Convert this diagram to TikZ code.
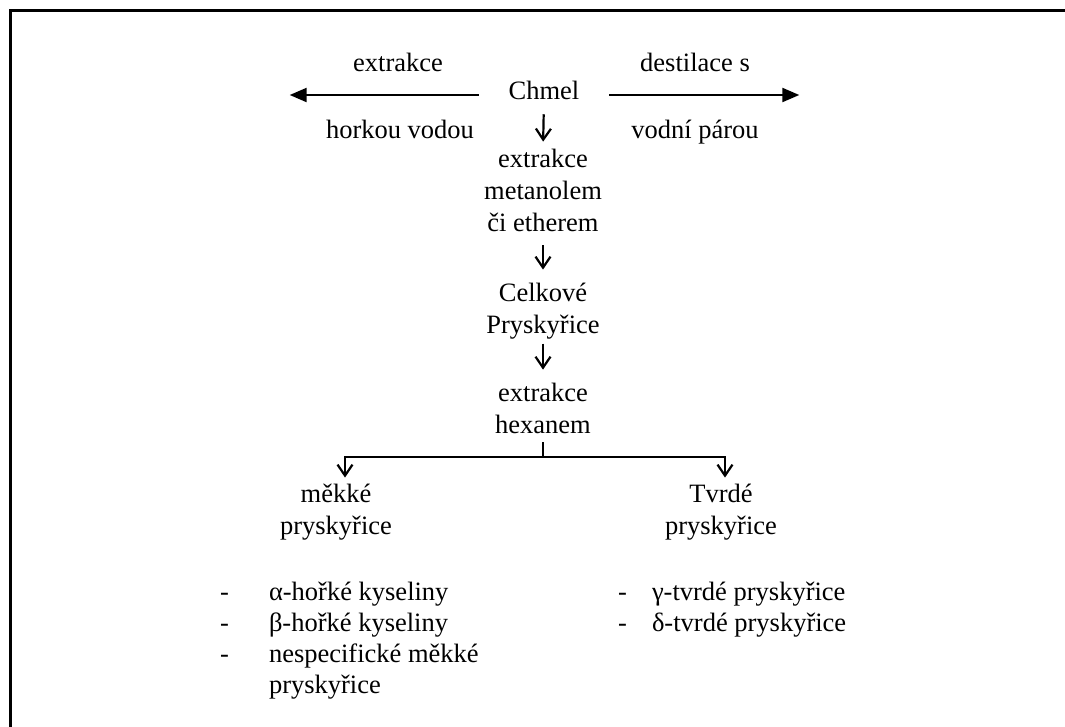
\documentclass[tikz,border=0pt]{standalone}
\usepackage{fontspec}
\setmainfont{Liberation Serif}
\usetikzlibrary{arrows.meta}
\newcommand{\cstack}[1]{\vtop{\halign{\hfil##\hfil\cr#1\crcr}}}
\newcommand{\lstack}[1]{\vtop{\halign{##\hfil\cr#1\crcr}}}
\begin{document}
\begin{tikzpicture}[x=1pt,y=-1pt,
  lbl/.style={inner sep=0pt,outer sep=0pt,anchor=base,font=\fontsize{26.5}{32}\selectfont},
  lst/.style={inner sep=0pt,outer sep=0pt,anchor=base west,font=\fontsize{26.5}{31}\selectfont},
  harrow/.style={line width=2.2pt,-{Triangle[length=17pt,width=14pt]}},
  varrow/.style={line width=2.2pt,-{Straight Barb[length=11pt,width=15pt,line width=2.2pt]}}]
\useasboundingbox (0,0) rectangle (1065,726);
\draw[line width=2.5pt] (10.5,760) -- (10.5,10.5) -- (1100,10.5);
% top row
\node[lbl] (chmel) at (544,99) {Chmel};
\node[lbl] (ext1) at (398,71) {extrakce};
\node[lbl] (hot) at (400,138) {horkou vodou};
\node[lbl] (dest) at (695,71) {destilace s};
\node[lbl] (steam) at (695,138) {vodní párou};
\node[inner sep=0pt] (L) at (289,95) {};
\node[inner sep=0pt] (R) at (800,95) {};
\draw[harrow,shorten <=30pt] (chmel.west |- L) -- (L);
\draw[harrow,shorten <=30pt] (chmel.east |- R) -- (R);
% central column
\node[lbl] (meth) at (543,167) {\cstack{extrakce\cr metanolem\cr či etherem}};
\node[lbl] (resin) at (543,301) {\cstack{Celkové\cr Pryskyřice}};
\node[lbl] (hex) at (543,401) {\cstack{extrakce\cr hexanem}};
\draw[varrow,shorten <=15pt,shorten >=7pt] (chmel.south) -- (meth.north);
\draw[varrow,shorten <=14pt,shorten >=13pt] (meth.south) -- (resin.north);
\draw[varrow,shorten <=5pt,shorten >=13pt] (resin.south) -- (hex.north);
% split
\node[lbl] (soft) at (336,502) {\cstack{měkké\cr pryskyřice}};
\node[lbl] (hard) at (721,502) {\cstack{Tvrdé\cr pryskyřice}};
\draw[line width=2.2pt] ([yshift=-9pt]hex.south) -- ++(0,15) coordinate (br);
\draw[varrow] (br) -| ([xshift=9pt,yshift=6pt]soft.north);
\draw[varrow] (br) -| ([xshift=4pt,yshift=6pt]hard.north);
% lists
\node[lst] (softlist) at (220,600) {\lstack{\makebox[49pt][l]{-}α-hořké kyseliny\cr \makebox[49pt][l]{-}β-hořké kyseliny\cr \makebox[49pt][l]{-}nespecifické měkké\cr \hspace*{49pt}pryskyřice}};
\node[lst] (hardlist) at (618,600) {\lstack{\makebox[34pt][l]{-}γ-tvrdé pryskyřice\cr \makebox[34pt][l]{-}δ-tvrdé pryskyřice}};
\end{tikzpicture}
\end{document}
